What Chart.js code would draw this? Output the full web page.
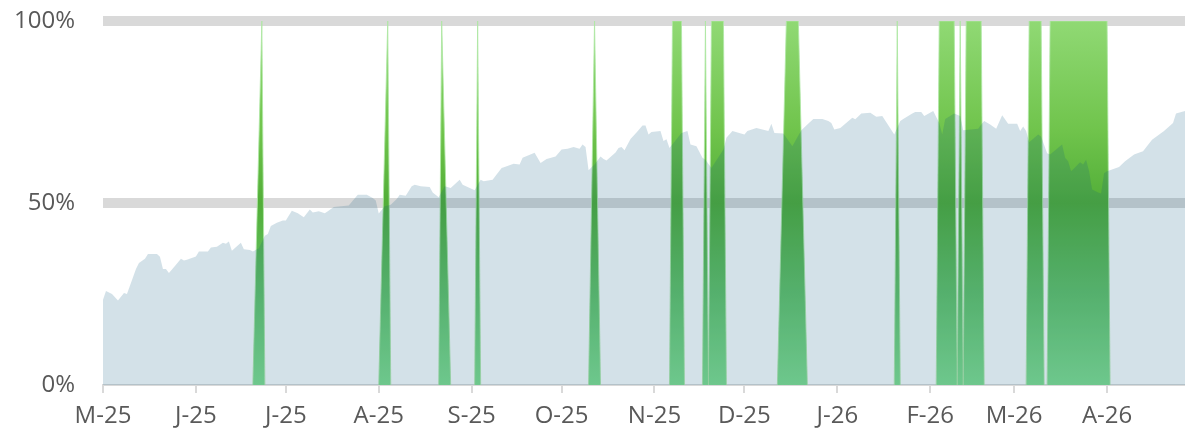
<!DOCTYPE html>
<html>
<head>
<meta charset="utf-8">
<script src="https://cdn.jsdelivr.net/npm/chart.js@4.4.1/dist/chart.umd.min.js"></script>
<style>
  html, body { margin: 0; padding: 0; background: #fff; }
  #wrap { width: 1185px; height: 430px; }
</style>
</head>
<body>
<div id="wrap"><canvas id="chart"></canvas></div>
<script>
// x values are days counted from 1 May 2025
const monthStarts = [0, 31, 61, 92, 123, 153, 184, 214, 245, 276, 304, 335];
const monthLabels = ["M-25", "J-25", "J-25", "A-25", "S-25", "O-25", "N-25", "D-25", "J-26", "F-26", "M-26", "A-26"];
const yTicks = [0, 50, 100];

// blue-grey area (%)
const blueDays = [0, 1, 3, 5, 7, 8, 11, 12, 14, 15, 18, 19, 20, 21, 22, 24, 26, 27, 28, 31, 32, 35, 36, 38, 40, 41, 42, 43, 46, 47, 49, 50, 52, 54, 55, 56, 58, 60, 61, 63, 65, 67, 69, 70, 72, 74, 75, 77, 82, 85, 88, 90, 91, 92, 94, 96, 98, 99, 101, 103, 104, 106, 109, 110, 112, 114, 116, 119, 120, 124, 126, 127, 130, 131, 133, 134, 137, 139, 140, 144, 146, 148, 151, 153, 155, 157, 159, 160, 161, 162, 164, 166, 167, 168, 171, 172, 173, 174, 176, 178, 180, 181, 182, 183, 186, 187, 188, 189, 193, 195, 196, 198, 200, 201, 203, 207, 208, 210, 214, 215, 218, 222, 223, 224, 227, 230, 233, 235, 237, 240, 242, 243, 244, 246, 250, 251, 253, 256, 258, 260, 264, 266, 267, 270, 271, 273, 274, 277, 279, 280, 281, 284, 286, 287, 292, 293, 294, 296, 298, 300, 302, 305, 306, 307, 308, 309, 312, 313, 315, 316, 320, 321, 322, 323, 326, 327, 328, 329, 330, 332, 333, 334, 335, 339, 341, 344, 347, 350, 354, 357, 358, 361];
const blueValues = [23.4, 25.8, 25.0, 23.2, 25.3, 25.0, 31.9, 33.5, 34.7, 36.0, 36.0, 35.2, 31.9, 31.9, 30.8, 32.7, 34.7, 34.2, 34.4, 35.3, 36.7, 36.7, 37.8, 38.0, 39.1, 38.8, 39.4, 36.9, 39.1, 37.3, 37.1, 36.7, 37.6, 41.0, 41.5, 43.7, 44.6, 45.2, 45.2, 47.9, 47.2, 46.1, 48.2, 47.4, 47.7, 47.2, 47.7, 48.9, 49.3, 52.3, 52.3, 51.4, 50.7, 47.1, 49.1, 49.5, 51.1, 52.3, 52.0, 54.6, 55.0, 54.6, 54.4, 52.9, 51.6, 54.6, 54.1, 56.4, 55.0, 53.5, 56.4, 56.0, 56.4, 57.5, 59.6, 59.9, 60.8, 60.6, 62.4, 63.8, 61.0, 62.1, 62.8, 64.7, 64.9, 65.4, 64.9, 66.1, 65.4, 59.0, 60.6, 62.8, 62.1, 61.7, 63.9, 65.1, 65.4, 64.5, 67.6, 69.4, 71.3, 71.3, 68.8, 69.5, 69.8, 67.0, 67.5, 65.1, 69.2, 69.8, 66.1, 65.6, 62.4, 61.9, 59.6, 64.7, 67.9, 69.8, 68.8, 69.8, 70.6, 69.8, 71.8, 69.2, 69.1, 65.6, 70.0, 71.6, 73.1, 73.1, 72.5, 72.0, 70.2, 70.6, 73.4, 73.0, 74.6, 74.8, 73.7, 73.9, 68.8, 72.5, 73.1, 74.6, 75.0, 75.0, 73.9, 75.3, 72.0, 68.8, 73.1, 74.6, 73.9, 70.0, 70.4, 71.6, 72.5, 71.6, 70.4, 74.1, 71.8, 71.8, 69.8, 71.0, 69.8, 66.7, 68.8, 68.2, 63.7, 63.3, 66.1, 62.4, 61.5, 58.7, 61.2, 60.6, 61.9, 58.7, 53.7, 52.9, 52.6, 58.2, 58.7, 59.9, 61.5, 63.3, 64.2, 67.4, 69.8, 72.0, 74.6, 75.3];

// green signal: [last day at 0, first day at 100, last day at 100, next day at 0]
const greenEvents = [
    [50, 53, 53, 54],
    [92, 95, 95, 96],
    [112, 113, 113, 116],
    [124, 125, 125, 126],
    [162, 164, 164, 166],
    [189, 190, 193, 194],
    [200, 201, 201, 202],
    [202, 203, 207, 208],
    [225, 228, 232, 235],
    [264, 265, 265, 266],
    [278, 279, 284, 285],
    [285, 286, 286, 287],
    [287, 288, 293, 294],
    [308, 309, 313, 314],
    [315, 316, 335, 336]
];

const bluePoints = blueDays.map((d, i) => ({ x: d, y: blueValues[i] }));

const greenPoints = [];
greenEvents.forEach(ev => {
    greenPoints.push({ x: ev[0], y: 0 });
    greenPoints.push({ x: ev[1], y: 100 });
    if (ev[2] !== ev[1]) greenPoints.push({ x: ev[2], y: 100 });
    greenPoints.push({ x: ev[3], y: 0 });
    greenPoints.push({ x: ev[3], y: null }); // break between events
});

function greenFill(context) {
    const chart = context.chart;
    const area = chart.chartArea;
    if (!area) return "#5cb83a";
    const g = chart.ctx.createLinearGradient(0, area.top, 0, area.bottom);
    g.addColorStop(0, "#90d974");
    g.addColorStop(0.3, "#70c44c");
    g.addColorStop(0.5, "#52ae38");
    g.addColorStop(0.75, "#66c46a");
    g.addColorStop(1, "#84e090");
    return g;
}

const font = { family: "'Open Sans', 'Noto Sans', sans-serif", size: 24 };

new Chart(document.getElementById("chart"), {
    type: "line",
    data: {
        datasets: [
            {
                // drawn on top, see-through so the grid and green show under it
                data: bluePoints,
                backgroundColor: "rgba(11, 87, 125, 0.18)",
                borderWidth: 0,
                pointRadius: 0,
                fill: "origin",
                tension: 0
            },
            {
                data: greenPoints,
                backgroundColor: greenFill,
                borderColor: "rgba(175, 232, 165, 0.85)",
                borderWidth: 1,
                pointRadius: 0,
                fill: "origin",
                spanGaps: false,
                tension: 0
            }
        ]
    },
    options: {
        responsive: true,
        maintainAspectRatio: false,
        animation: false,
        layout: { padding: { top: 21, right: 0, left: 0, bottom: 0 } },
        plugins: {
            legend: { display: false },
            tooltip: { enabled: false }
        },
        scales: {
            x: {
                type: "linear",
                min: 0,
                max: 361,
                afterBuildTicks: scale => {
                    scale.ticks = monthStarts.map(v => ({ value: v }));
                },
                afterFit: scale => { scale.height = 45; },
                ticks: {
                    autoSkip: false,
                    maxRotation: 0,
                    padding: 9,
                    color: "#595959",
                    font: font,
                    callback: (v, i) => monthLabels[i]
                },
                grid: {
                    drawOnChartArea: false,
                    drawTicks: true,
                    tickLength: 8,
                    color: "#d9d9d9",
                    lineWidth: 2
                },
                border: { display: true, color: "#d9d9d9", width: 2 }
            },
            y: {
                min: 0,
                max: 100,
                afterBuildTicks: scale => {
                    scale.ticks = yTicks.map(v => ({ value: v }));
                },
                afterFit: scale => { scale.width = 103; },
                ticks: {
                    padding: 0,
                    color: "#595959",
                    font: font,
                    callback: v => v + "%"
                },
                grid: {
                    // invisible ticks leave the gap between labels and plot
                    drawTicks: true,
                    tickLength: 28,
                    tickColor: "rgba(0,0,0,0)",
                    lineWidth: 10,
                    color: ctx => (ctx.tick && ctx.tick.value === 0) ? "rgba(0,0,0,0)" : "#d9d9d9"
                },
                border: { display: false }
            }
        }
    }
});
</script>
</body>
</html>
